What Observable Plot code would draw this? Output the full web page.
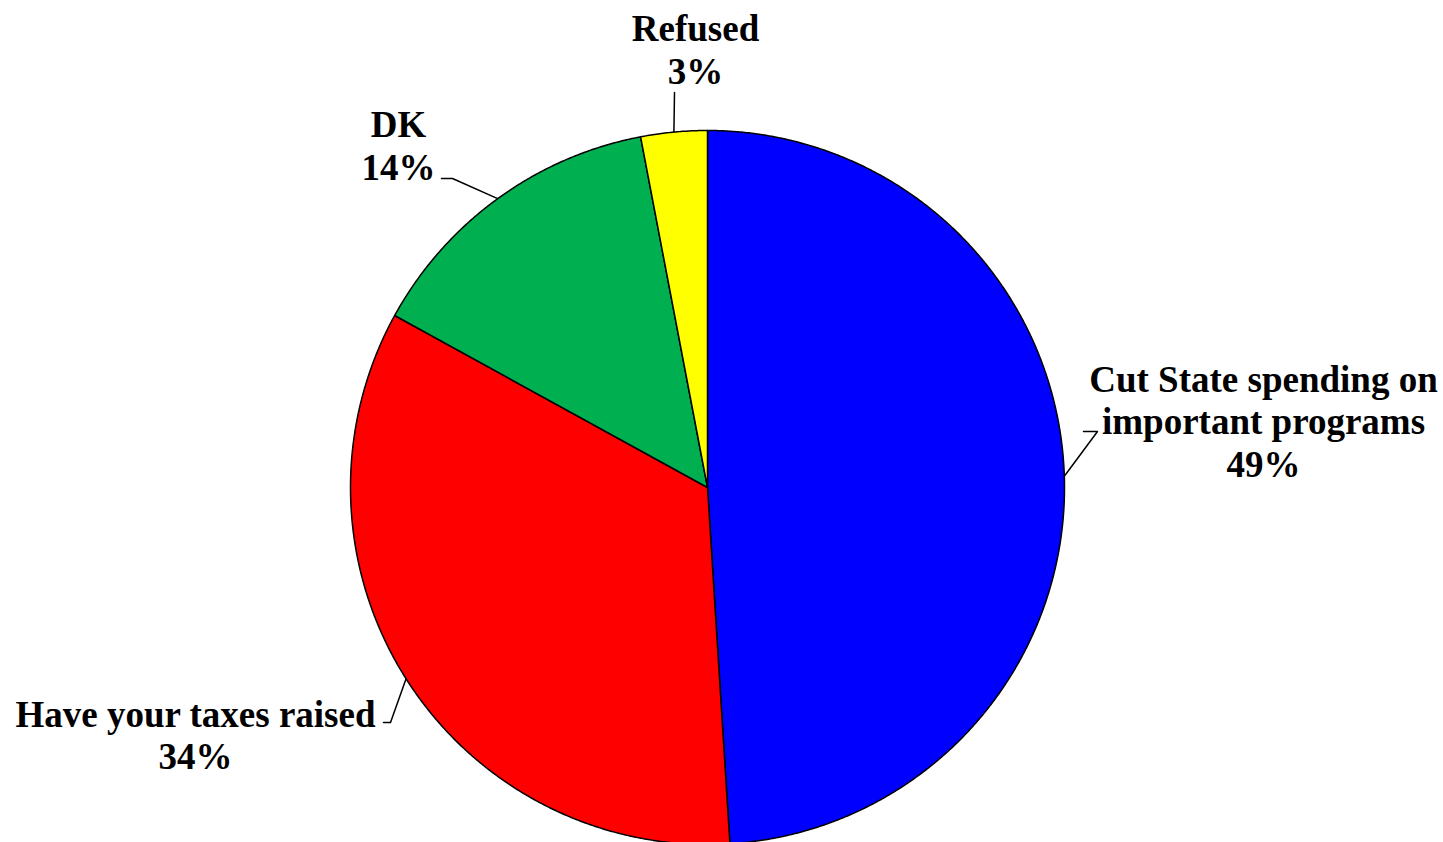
<!DOCTYPE html>
<html><head><meta charset="utf-8">
<script src="https://cdn.jsdelivr.net/npm/d3@7"></script>
<script src="https://cdn.jsdelivr.net/npm/@observablehq/plot@0.6"></script>
<style>html,body{margin:0;padding:0;background:#fff;overflow:hidden} svg{display:block}</style>
</head><body><div id="chart"></div>
<script>
// ---- data ----
const categories = ["Cut State spending on important programs", "Have your taxes raised", "DK", "Refused"];
const labelLines = [["Cut State spending on", "important programs"], ["Have your taxes raised"], ["DK"], ["Refused"]];
const values = [49, 34, 14, 3];
const colors = ["#0000FF", "#FF0000", "#00B050", "#FFFF00"];

// ---- layout (pixels) ----
const W = 1443, H = 842, CX = 707, CY = 487, R = 357;
const labelLayout = [
  {x: 1263, y: 420, elbow: [[1097, 431], [1083, 431]]},
  {x: 195, y: 734, elbow: [[390, 722], [383, 722]]},
  {x: 398, y: 144.5, elbow: [[452, 178], [441, 178]]},
  {x: 695, y: 48.5, elbow: [[674, 92]]}
];
const ux = px => (px - CX) / R;
const uy = py => (CY - py) / R;

// ---- pie geometry from values ----
const total = d3.sum(values);
const pie = d3.pie().sort(null).value(d => d)(values);
const slices = pie.map((p, i) => {
  const pts = [{x: 0, y: 0}];
  const n = Math.max(2, Math.ceil((p.endAngle - p.startAngle) / 0.005));
  for (let k = 0; k <= n; k++) {
    const a = p.startAngle + (p.endAngle - p.startAngle) * k / n;
    pts.push({x: Math.sin(a), y: Math.cos(a)});
  }
  return {pts, color: colors[i], mid: (p.startAngle + p.endAngle) / 2};
});

const leaders = slices.map((s, i) => {
  const pts = [{x: Math.sin(s.mid), y: Math.cos(s.mid)}];
  for (const [px, py] of labelLayout[i].elbow) pts.push({x: ux(px), y: uy(py)});
  return pts;
});

const labels = categories.map((c, i) => ({
  text: [...labelLines[i], Math.round(values[i] / total * 100) + "%"].join("\n"),
  x: ux(labelLayout[i].x),
  y: uy(labelLayout[i].y)
}));

const marks = [];
slices.forEach(s => marks.push(Plot.line(s.pts, {x: "x", y: "y", fill: s.color, stroke: "black", strokeWidth: 1.5, curve: "linear-closed"})));
leaders.forEach(l => marks.push(Plot.line(l, {x: "x", y: "y", stroke: "black", strokeWidth: 1.5})));
marks.push(Plot.text(labels, {x: "x", y: "y", text: "text", textAnchor: "middle", lineAnchor: "middle", lineHeight: 1.15, fontSize: 37, fontWeight: "bold", fill: "black"}));

const chart = Plot.plot({
  width: W, height: H,
  margin: 0,
  x: {domain: [ux(0), ux(W)], range: [0, W], axis: null},
  y: {domain: [uy(H), uy(0)], range: [H, 0], axis: null},
  style: {fontFamily: "'Liberation Serif', 'Times New Roman', serif", background: "white"},
  marks
});
document.getElementById("chart").appendChild(chart);
</script>
</body></html>
